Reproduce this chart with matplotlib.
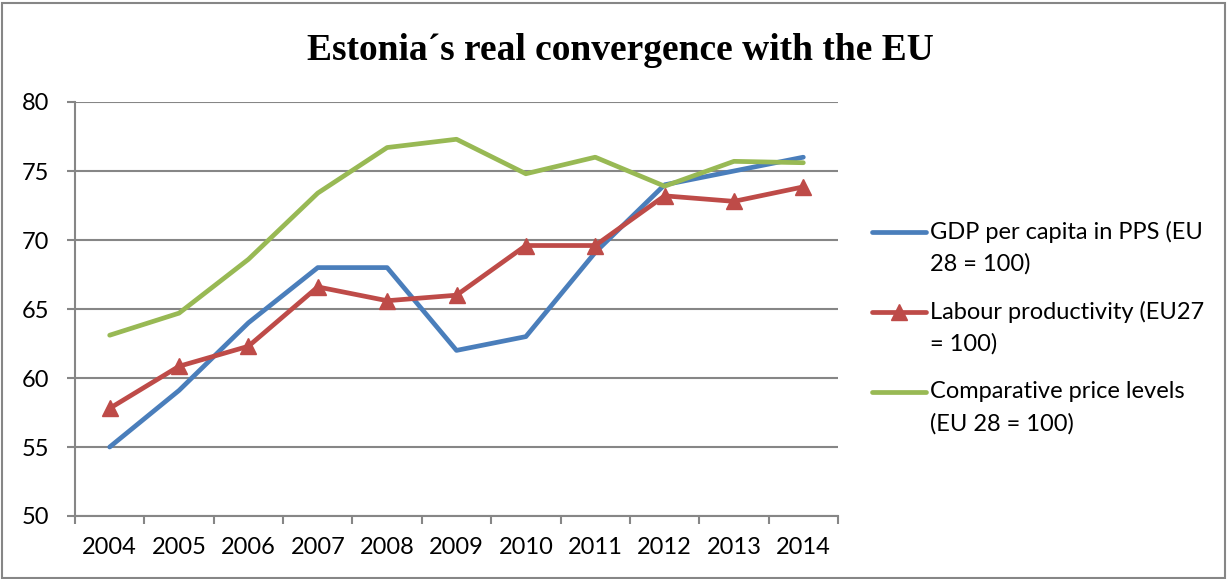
import matplotlib
matplotlib.use("Agg")
import matplotlib.pyplot as plt
from matplotlib.lines import Line2D
from matplotlib.patches import Rectangle

years = ["2004", "2005", "2006", "2007", "2008", "2009", "2010", "2011", "2012", "2013", "2014"]
gdp = [55.0, 59.1, 64.0, 68.0, 68.0, 62.0, 63.0, 69.1, 74.0, 75.0, 76.0]
labour = [57.8, 60.85, 62.3, 66.6, 65.6, 66.0, 69.6, 69.6, 73.2, 72.8, 73.85]
prices = [63.1, 64.7, 68.6, 73.4, 76.7, 77.3, 74.8, 76.0, 73.9, 75.7, 75.6]
labels = ["GDP per capita in PPS (EU\n28 = 100)",
          "Labour productivity (EU27\n= 100)",
          "Comparative price levels\n(EU 28 = 100)"]
colors = ["#4A7EBB", "#BE4B48", "#98B954"]
title = "Estonia\u00b4s real convergence with the EU"

W, H = 1228, 579
fig = plt.figure(figsize=(W / 100, H / 100), dpi=100)
ax = fig.add_axes([75 / W, 1 - 516 / H, (838 - 75) / W, (516 - 102) / H])

x = list(range(len(years)))
lw = 3.4
ax.plot(x, gdp, color=colors[0], lw=lw, solid_joinstyle="round", solid_capstyle="round", zorder=3)
ax.plot(x, labour, color=colors[1], lw=lw, marker="^", markersize=12, solid_joinstyle="round",
        solid_capstyle="round", zorder=4)
ax.plot(x, prices, color=colors[2], lw=lw, solid_joinstyle="round", solid_capstyle="round", zorder=3)

ax.set_xlim(-0.5, len(years) - 0.5)
ax.set_ylim(50, 80)
ax.set_yticks(range(50, 81, 5))
ax.grid(axis="y", color="#868686", lw=1.5)
ax.set_axisbelow(True)
for s in ["top", "right"]:
    ax.spines[s].set_visible(False)
for s in ["left", "bottom"]:
    ax.spines[s].set_color("#868686")
    ax.spines[s].set_linewidth(1.5)

# category labels centered, ticks on boundaries
ax.set_xticks([i - 0.5 for i in range(len(years) + 1)])
ax.set_xticklabels([])
ax.set_xticks(x, minor=True)
ax.set_xticklabels(years, minor=True)
ax.tick_params(axis="x", which="major", length=5.5, width=1.5, color="#868686", direction="out")
ax.tick_params(axis="x", which="minor", length=0, pad=15)
ax.tick_params(axis="y", length=5.5, width=1.5, color="#868686", direction="out", pad=13)
for t in ax.get_xticklabels(minor=True) + ax.get_yticklabels():
    t.set_fontfamily("Lato")
    t.set_fontsize(17)
    t.set_color("black")

fig.text(620 / W, 1 - 51 / H, title, ha="center", va="center",
         fontfamily="Liberation Serif", fontweight="bold", fontsize=27)

# legend
legend_y = [232, 312, 392]
for c, lab, yy, mk in zip(colors, labels, legend_y, [None, "^", None]):
    fy = 1 - yy / H
    fig.add_artist(Line2D([872 / W, 926 / W], [fy, fy], transform=fig.transFigure, color=c,
                          lw=lw, solid_capstyle="round"))
    if mk:
        fig.add_artist(Line2D([899 / W], [fy], transform=fig.transFigure, color=c,
                              marker=mk, markersize=12, lw=0))
    for k, line in enumerate(lab.split("\n")):
        fig.text(930 / W, 1 - (yy + 32 * k) / H, line, ha="left", va="center",
                 fontfamily="Lato", fontsize=17)

fig.add_artist(Rectangle((2 / W, 1 / H), (W - 5) / W, (H - 4) / H, transform=fig.transFigure,
                         fill=False, edgecolor="#868686", lw=1.5))

fig.savefig("out.png", dpi=100)
